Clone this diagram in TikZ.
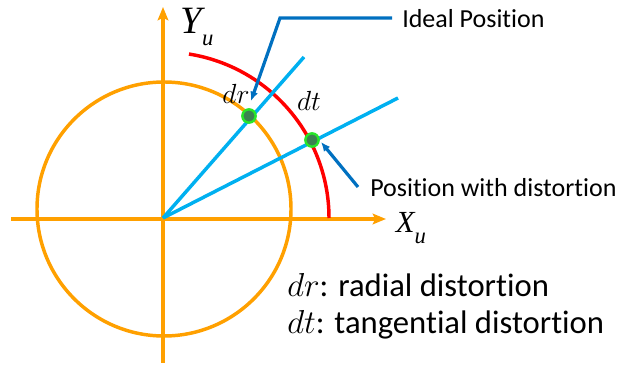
\documentclass[tikz,border=0pt]{standalone}
\usepackage{fontspec}
\setmainfont{Carlito}[Ligatures={NoCommon}]
\newfontfamily\axisfont{Liberation Serif}
\usetikzlibrary{arrows.meta}
\definecolor{axisorange}{RGB}{255,160,0}
\definecolor{raylblue}{RGB}{0,176,240}
\definecolor{calloutblue}{RGB}{0,112,192}
\definecolor{dotring}{RGB}{40,230,40}
\definecolor{dotfill}{RGB}{60,130,80}
\begin{document}
\begin{tikzpicture}[x=0.75pt,y=-0.75pt,
  axis/.style={draw=axisorange, line width=2.6pt, -{Stealth[length=10pt,width=8pt,inset=2pt]}},
  ray/.style={draw=raylblue, line width=2.6pt},
  callout/.style={draw=calloutblue, line width=2.4pt, -{Latex[length=7pt,width=6pt]}},
  pt/.style={circle, draw=dotring, fill=dotfill, line width=1.8pt, minimum size=10pt, inner sep=0pt},
  lbl/.style={inner sep=0pt, font=\fontsize{19.5}{22}\selectfont}]
\useasboundingbox (0,0) rectangle (621,366);
% axes and circles
\coordinate (O) at (163,218);
\draw[draw=axisorange, line width=2.6pt] (164,209) circle[radius=127];
\draw[axis] (11,219) -- (386,219);
\draw[axis] (163,363) -- (163,7);
\draw[red, line width=2.6pt] (O) ++(-81:166) arc[start angle=-81, end angle=0, radius=166];
% rays
\coordinate (rayA) at (304,57);
\coordinate (rayB) at (398,98);
\draw[ray] (O) -- (rayA);
\draw[ray] (O) -- (rayB);
\node[pt] (ideal) at (249,116) {};
\node[pt] (dist) at (312,140) {};
% labels
\node[inner sep=0pt] (ylab) at (197,27) {\axisfont\itshape\fontsize{29}{30}\selectfont Y\raisebox{-9pt}{\fontsize{17}{18}\selectfont u}};
\node[inner sep=0pt] (xlab) at (411,228) {\axisfont\itshape\fontsize{23}{24}\selectfont X\raisebox{-8pt}{\fontsize{17}{18}\selectfont u}};
\node[inner sep=0pt] (drlab) at (236,94) {\fontsize{22}{24}\selectfont$dr$};
\node[inner sep=0pt] (dtlab) at (309,101) {\fontsize{22}{24}\selectfont$dt$};
% callouts
\node[lbl, anchor=base west] (idealtxt) at (402,28) {Ideal Position};
\node[lbl, anchor=base west] (disttxt) at (370,197) {Position with distortion};
\coordinate (knee) at (280,18);
\coordinate (idealtip) at (251,101);
\coordinate (diststart) at (358,187);
\coordinate (disttip) at (321,142);
\draw[callout] (392,18) -- (knee) -- (idealtip);
\draw[callout] (diststart) -- (disttip);
% legend
\node[inner sep=0pt, anchor=base west, font=\fontsize{24.5}{28}\selectfont] (drleg) at (287,297) {$dr$: radial distortion};
\node[inner sep=0pt, anchor=base west, font=\fontsize{24.5}{28}\selectfont] (dtleg) at (287,334) {$dt$: tangential distortion};
\end{tikzpicture}
\end{document}
